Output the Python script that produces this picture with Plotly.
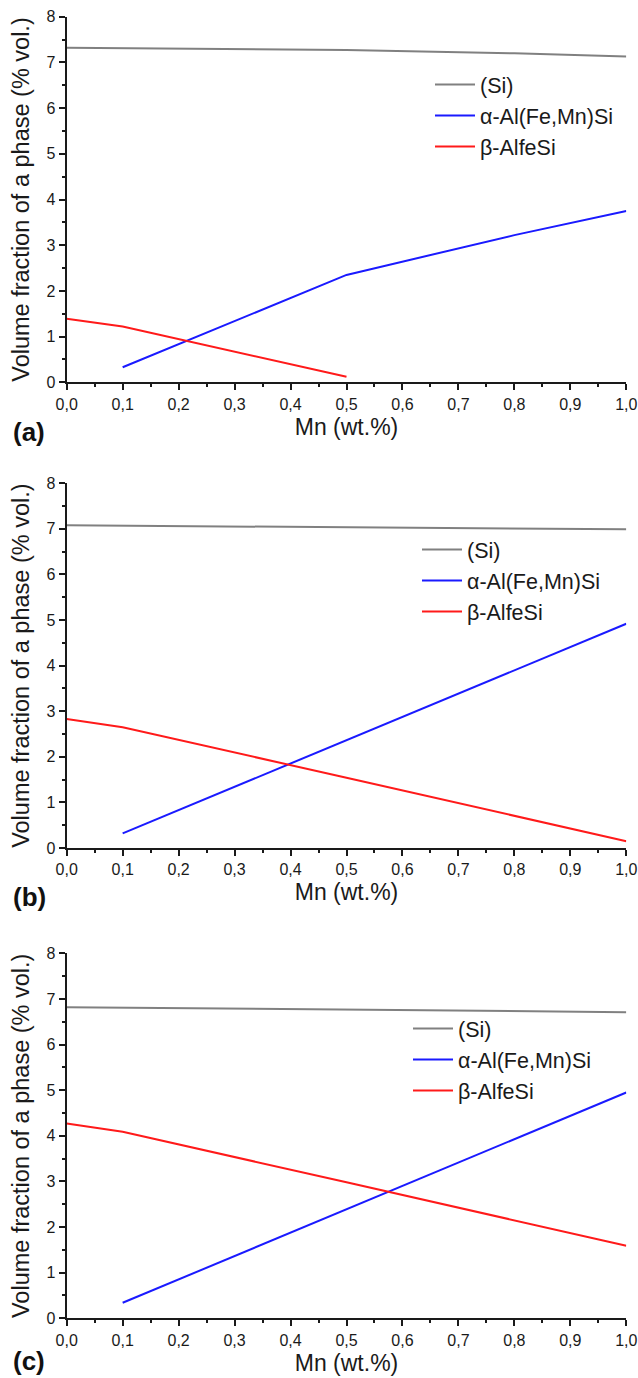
import plotly.graph_objects as go

# ---- data ----
mn_all = [0.0, 0.1, 0.5, 0.8, 1.0]
mn_alpha = [0.1, 0.5, 0.8, 1.0]

# panel (a)
a_si = [7.32, 7.31, 7.27, 7.20, 7.13]
a_alpha = [0.33, 2.35, 3.22, 3.75]
a_beta_x = [0.0, 0.1, 0.5]
a_beta = [1.39, 1.22, 0.12]

# panel (b)
b_si = [7.08, 7.07, 7.04, 7.01, 6.99]
b_alpha = [0.32, 2.36, 3.90, 4.92]
b_beta = [2.83, 2.65, 1.54, 0.71, 0.15]

# panel (c)
c_si = [6.82, 6.81, 6.77, 6.74, 6.71]
c_alpha = [0.34, 2.39, 3.92, 4.95]
c_beta = [4.27, 4.09, 2.98, 2.15, 1.59]

x_tickvals = [0.0, 0.1, 0.2, 0.3, 0.4, 0.5, 0.6, 0.7, 0.8, 0.9, 1.0]
x_ticktext = ["0,0", "0,1", "0,2", "0,3", "0,4", "0,5", "0,6", "0,7", "0,8", "0,9", "1,0"]
y_tickvals = [0, 1, 2, 3, 4, 5, 6, 7, 8]

names = ["(Si)", "α-Al(Fe,Mn)Si", "β-AlfeSi"]
colors = ["#808080", "#1a1aff", "#ff1a1a"]
panel_labels = ["(a)", "(b)", "(c)"]

W, H = 638, 1378
FONT = "Liberation Sans, Arial, sans-serif"
AX = "#1a1a1a"

panels = [
    (mn_all, a_si, mn_alpha, a_alpha, a_beta_x, a_beta),
    (mn_all, b_si, mn_alpha, b_alpha, mn_all, b_beta),
    (mn_all, c_si, mn_alpha, c_alpha, mn_all, c_beta),
]

# plot areas in pixels (top, bottom)
px_rows = [(16.7, 382.3), (483.3, 848.0), (953.3, 1318.3)]
x_left, x_right = 66.7, 626.3
legend_pos = [(430.0, 64.0), (417.0, 529.0), (408.0, 1008.0)]
label_pos = [432.0, 897.0, 1361.0]

fig = go.Figure()
layout = dict(
    width=W, height=H,
    margin=dict(l=0, r=0, t=0, b=0, autoexpand=False),
    paper_bgcolor="white", plot_bgcolor="white",
    font=dict(family=FONT, color=AX),
    showlegend=True,
)
annotations = []

for i, (xs, si, xa, al, xb, be) in enumerate(panels):
    k = "" if i == 0 else str(i + 1)
    lg = "legend" if i == 0 else "legend" + str(i + 1)
    for xv, yv, nm, col in [(xs, si, names[0], colors[0]),
                            (xa, al, names[1], colors[1]),
                            (xb, be, names[2], colors[2])]:
        fig.add_trace(go.Scatter(
            x=xv, y=yv, mode="lines", name=nm,
            line=dict(color=col, width=2),
            xaxis="x" + k, yaxis="y" + k, legend=lg,
        ))
    top, bot = px_rows[i]
    layout["xaxis" + k] = dict(
        domain=[x_left / W, x_right / W],
        anchor="y" + k,
        range=[0, 1.0],
        automargin=False,
        tickvals=x_tickvals, ticktext=x_ticktext,
        ticks="outside", ticklen=6, tickwidth=1.5, tickcolor=AX,
        minor=dict(dtick=0.05, ticks="outside", ticklen=3, tickwidth=1.5, tickcolor=AX, showgrid=False),
        showline=True, linecolor=AX, linewidth=2,
        showgrid=False, zeroline=False,
        tickfont=dict(size=16, family=FONT, color=AX),
        title=dict(text="Mn (wt.%)", font=dict(size=23, family=FONT, color=AX), standoff=7),
        fixedrange=True,
    )
    layout["yaxis" + k] = dict(
        domain=[1 - bot / H, 1 - top / H],
        anchor="x" + k,
        range=[0, 8],
        automargin=False,
        tickvals=y_tickvals,
        ticks="outside", ticklen=6, tickwidth=1.5, tickcolor=AX,
        minor=dict(dtick=0.5, ticks="outside", ticklen=3, tickwidth=1.5, tickcolor=AX, showgrid=False),
        showline=True, linecolor=AX, linewidth=2,
        showgrid=False, zeroline=False,
        tickfont=dict(size=16, family=FONT, color=AX),
        title=dict(text="Volume fraction of a phase (% vol.)",
                   font=dict(size=23.5, family=FONT, color=AX), standoff=10),
        fixedrange=True,
    )
    lx, ly = legend_pos[i]
    layout[lg] = dict(
        x=lx / W, y=1 - ly / H, xanchor="left", yanchor="top",
        bgcolor="rgba(0,0,0,0)", borderwidth=0,
        font=dict(size=21.5, family=FONT, color=AX),
        tracegroupgap=0, itemwidth=40,
    )
    annotations.append(dict(
        text="<b>" + panel_labels[i] + "</b>",
        x=29 / W, y=1 - label_pos[i] / H, xref="paper", yref="paper",
        xanchor="center", yanchor="middle", showarrow=False,
        font=dict(size=26, family=FONT, color="#111111"),
    ))

layout["annotations"] = annotations
fig.update_layout(**layout)
fig.write_html(
    "out.html",
    config={"displayModeBar": False},
    post_script="document.body.style.margin='0';document.body.style.overflow='hidden';",
)
